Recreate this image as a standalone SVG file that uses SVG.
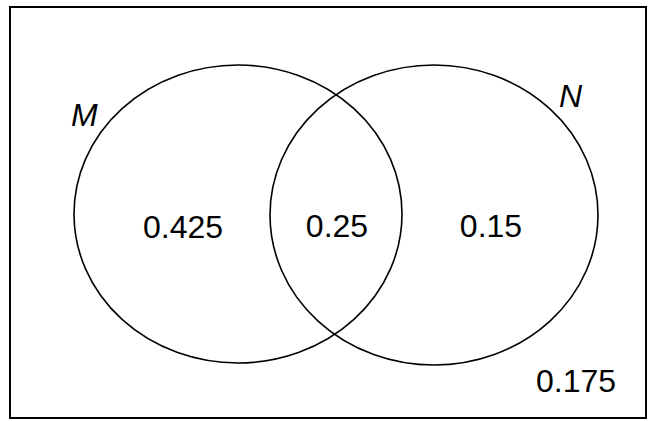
<svg xmlns="http://www.w3.org/2000/svg" width="655" height="421" viewBox="0 0 655 421">
<style>
.frame{fill:none;stroke:#000;stroke-width:2}
.set{fill:none;stroke:#000;stroke-width:1.6}
.val{font-family:"Liberation Sans",Arial,sans-serif;font-size:32px;fill:#000;text-anchor:middle}
.lbl{font-family:"Liberation Sans",Arial,sans-serif;font-size:32px;font-style:italic;fill:#000}
</style>
<rect width="655" height="421" fill="#fff"/>
<g id="universe">
<rect class="frame" x="10" y="7" width="636" height="411"/>
<text class="val" x="576" y="392">0.175</text>
</g>
<g id="set-M">
<ellipse class="set" cx="238" cy="214" rx="164" ry="149"/>
<text class="lbl" x="71" y="126">M</text>
</g>
<g id="set-N">
<ellipse class="set" cx="434" cy="215" rx="164" ry="150"/>
<text class="lbl" x="559" y="107">N</text>
</g>
<g id="regions">
<text class="val" x="183" y="238">0.425</text>
<text class="val" x="337" y="237">0.25</text>
<text class="val" x="491" y="237">0.15</text>
</g>
</svg>
